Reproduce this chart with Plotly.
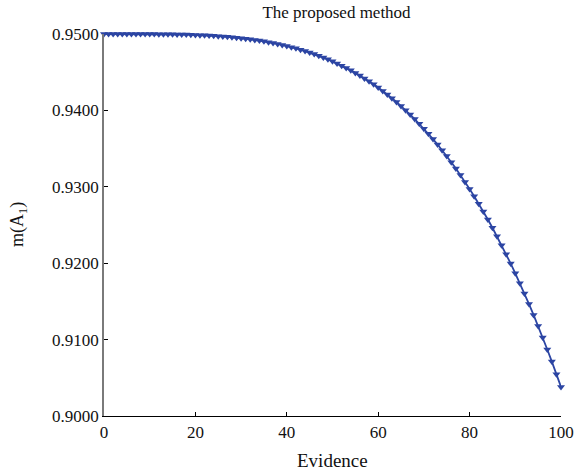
import plotly.graph_objects as go

evidence = list(range(0, 101))
m_a1 = [
    0.95000, 0.95000, 0.95000, 0.95000, 0.95000, 0.95000, 0.95000, 0.95000, 0.95000, 0.94999,
    0.94999, 0.94999, 0.94998, 0.94998, 0.94997, 0.94996, 0.94995, 0.94993, 0.94992, 0.94990,
    0.94988, 0.94985, 0.94983, 0.94980, 0.94976, 0.94972, 0.94968, 0.94963, 0.94958, 0.94952,
    0.94946, 0.94939, 0.94931, 0.94923, 0.94914, 0.94904, 0.94893, 0.94882, 0.94870, 0.94857,
    0.94843, 0.94828, 0.94812, 0.94795, 0.94777, 0.94757, 0.94737, 0.94715, 0.94692, 0.94668,
    0.94642, 0.94615, 0.94586, 0.94556, 0.94524, 0.94491, 0.94456, 0.94419, 0.94381, 0.94341,
    0.94299, 0.94255, 0.94208, 0.94160, 0.94110, 0.94058, 0.94003, 0.93946, 0.93887, 0.93825,
    0.93761, 0.93694, 0.93625, 0.93553, 0.93479, 0.93402, 0.93322, 0.93239, 0.93153, 0.93064,
    0.92972, 0.92877, 0.92779, 0.92677, 0.92572, 0.92464, 0.92352, 0.92236, 0.92118, 0.91995,
    0.91868, 0.91738, 0.91603, 0.91465, 0.91323, 0.91177, 0.91026, 0.90871, 0.90712, 0.90548,
    0.90380,
]
x_ticks = [0, 20, 40, 60, 80, 100]
y_ticks = [0.90, 0.91, 0.92, 0.93, 0.94, 0.95]
x_tick_text = ["0", "20", "40", "60", "80", "100"]
y_tick_text = ["0.9000", "0.9100", "0.9200", "0.9300", "0.9400", "0.9500"]
title_text = "The proposed method"
x_title = "Evidence"
y_title = "m(A<sub>1</sub>)"

FONT = "'Liberation Serif', 'Times New Roman', Times, serif"
BLUE = "#2c45a3"
TXT = "#111111"

fig = go.Figure()
fig.add_trace(go.Scatter(
    x=evidence, y=m_a1, mode="lines+markers",
    line=dict(color=BLUE, width=1.8),
    marker=dict(symbol="triangle-down", size=7, color=BLUE),
    cliponaxis=False, showlegend=False,
))

fig.update_layout(
    width=586, height=471,
    margin=dict(l=104, r=17, t=34, b=55),
    paper_bgcolor="white", plot_bgcolor="white",
    font=dict(family=FONT, size=17, color=TXT),
    title=dict(text=title_text, x=(104 + 569) / 2 / 586, xanchor="center",
               yref="container", y=1 - 12 / 471, yanchor="middle",
               font=dict(family=FONT, size=17, color=TXT)),
    xaxis=dict(range=[0, 100], tickmode="array", tickvals=x_ticks, ticktext=x_tick_text,
               ticks="inside", ticklen=4,
               tickcolor="black", showline=True, linecolor="black", linewidth=1.2,
               showgrid=False, zeroline=False, mirror=False,
               tickfont=dict(family=FONT, size=17, color=TXT)),
    yaxis=dict(range=[0.90, 0.95], tickmode="array", tickvals=y_ticks, ticktext=y_tick_text,
               ticks="inside", ticklen=4, tickcolor="black",
               showline=True, linecolor="#7a7a7a", linewidth=1.5,
               showgrid=False, zeroline=False, mirror=False,
               tickfont=dict(family=FONT, size=17, color=TXT)),
    annotations=[
        dict(text=x_title, xref="paper", yref="paper", x=0.5, y=0,
             xanchor="center", yanchor="middle", yshift=-44, showarrow=False,
             font=dict(family=FONT, size=19, color=TXT)),
        dict(text=y_title, xref="paper", yref="paper", x=0, y=0.5,
             xanchor="center", yanchor="middle", xshift=-86, textangle=-90,
             showarrow=False, font=dict(family=FONT, size=18, color=TXT)),
    ],
)

fig.write_html("out.html", config={"displayModeBar": False},
               post_script="document.body.style.margin='0';document.body.style.padding='0';")
